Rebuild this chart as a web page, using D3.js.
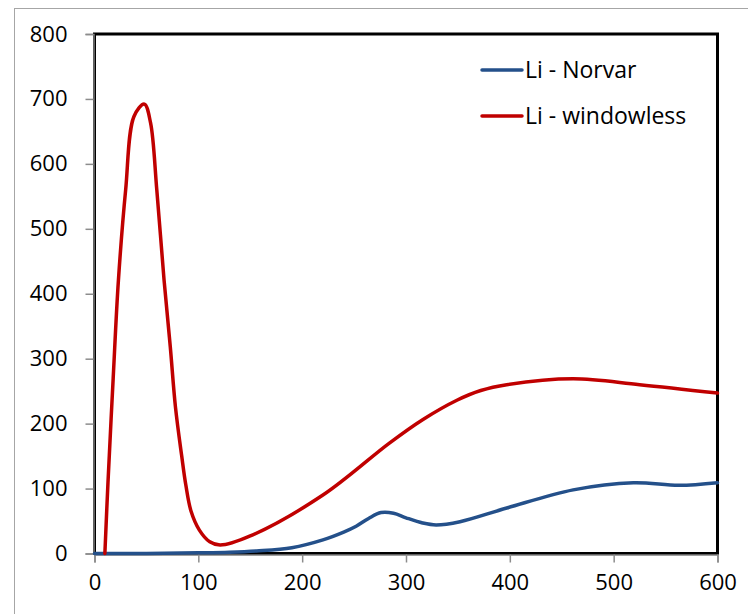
<!DOCTYPE html>
<html>
<head>
<meta charset="utf-8">
<script src="https://cdn.jsdelivr.net/npm/d3@7"></script>
<style>
  html, body { margin: 0; padding: 0; background: #fff; }
  svg { display: block; }
  text { font-family: "Open Sans", "Liberation Sans", sans-serif; fill: #000; }
</style>
</head>
<body>
<svg id="chart" width="748" height="614"></svg>
<script>
// Series data (x in time units, y value)
const norvarX = [0, 50, 100, 130, 156, 190, 220, 240, 252, 264, 276, 288, 300, 316, 329, 352, 397, 461, 519, 563, 600];
const norvarY = [0, 0, 1, 2, 4, 9, 21, 33, 42, 54, 63, 62, 55, 47, 44, 49, 70, 98, 109, 105, 109];

const windowlessX = [10, 13, 18, 23, 30, 38, 48, 54, 60, 67, 73, 78, 84, 88, 93, 101, 111, 121, 150, 220, 284, 316, 349, 372, 397, 461, 525, 600];
const windowlessY = [0, 110, 270, 420, 560, 673, 692, 663, 560, 421, 318, 225, 150, 105, 65, 36, 18, 13, 27, 90, 170, 206, 236, 251, 260, 269, 260, 247];

const seriesNames = ["Li - Norvar", "Li - windowless"];
const seriesColors = ["#24508A", "#C00000"];

const xTicks = [0, 100, 200, 300, 400, 500, 600];
const yTicks = [0, 100, 200, 300, 400, 500, 600, 700, 800];

const svg = d3.select("#chart");
const W = 748, H = 614;
const plotL = 94.5, plotR = 717.5, plotT = 34, plotB = 553.5;

// outer chart frame
svg.append("rect")
  .attr("x", 14.5).attr("y", 8.5)
  .attr("width", W).attr("height", H)
  .attr("fill", "#fff").attr("stroke", "#a6a6a6").attr("stroke-width", 1);

const x = d3.scaleLinear().domain([0, 600]).range([plotL, plotR]);
const y = d3.scaleLinear().domain([0, 800]).range([plotB, plotT]);

// plot area border
svg.append("rect")
  .attr("x", plotL).attr("y", plotT)
  .attr("width", plotR - plotL).attr("height", plotB - plotT)
  .attr("fill", "none").attr("stroke", "#000").attr("stroke-width", 3);

// axes
const yAxis = d3.axisLeft(y).tickValues(yTicks).tickSize(8).tickPadding(18);
const xAxis = d3.axisBottom(x).tickValues(xTicks).tickSize(8).tickPadding(12);

const gy = svg.append("g").attr("transform", `translate(${plotL - 1},0)`).call(yAxis);
const gx = svg.append("g").attr("transform", `translate(0,${plotB + 1})`).call(xAxis);

[gx, gy].forEach(g => {
  g.select(".domain").attr("stroke", "#808080").attr("stroke-width", 1.5);
  g.selectAll(".tick line").attr("stroke", "#8c8c8c").attr("stroke-width", 1.5);
  g.selectAll(".tick text")
    .attr("font-size", 22)
    .style("font-family", '"Open Sans", "Liberation Sans", sans-serif')
    .attr("fill", "#000");
});

// smoothed lines
const line = d3.line()
  .x(d => x(d[0]))
  .y(d => y(d[1]))
  .curve(d3.curveCatmullRom.alpha(0.5));

const norvar = norvarX.map((v, i) => [v, norvarY[i]]);
const windowless = windowlessX.map((v, i) => [v, windowlessY[i]]);

svg.append("path")
  .datum(norvar)
  .attr("d", line)
  .attr("fill", "none")
  .attr("stroke", seriesColors[0])
  .attr("stroke-width", 3.5)
  .attr("stroke-linejoin", "round")
  .attr("stroke-linecap", "round");

svg.append("path")
  .datum(windowless)
  .attr("d", line)
  .attr("fill", "none")
  .attr("stroke", seriesColors[1])
  .attr("stroke-width", 3.5)
  .attr("stroke-linejoin", "round")
  .attr("stroke-linecap", "round");

// legend
const legend = svg.append("g");
const legendY = [70, 116];
seriesNames.forEach((name, i) => {
  legend.append("line")
    .attr("x1", 482).attr("x2", 522)
    .attr("y1", legendY[i]).attr("y2", legendY[i])
    .attr("stroke", seriesColors[i]).attr("stroke-width", 3.5)
    .attr("stroke-linecap", "round");
  legend.append("text")
    .attr("x", 525).attr("y", legendY[i] + 8)
    .attr("font-size", 23)
    .text(name);
});
</script>
</body>
</html>
